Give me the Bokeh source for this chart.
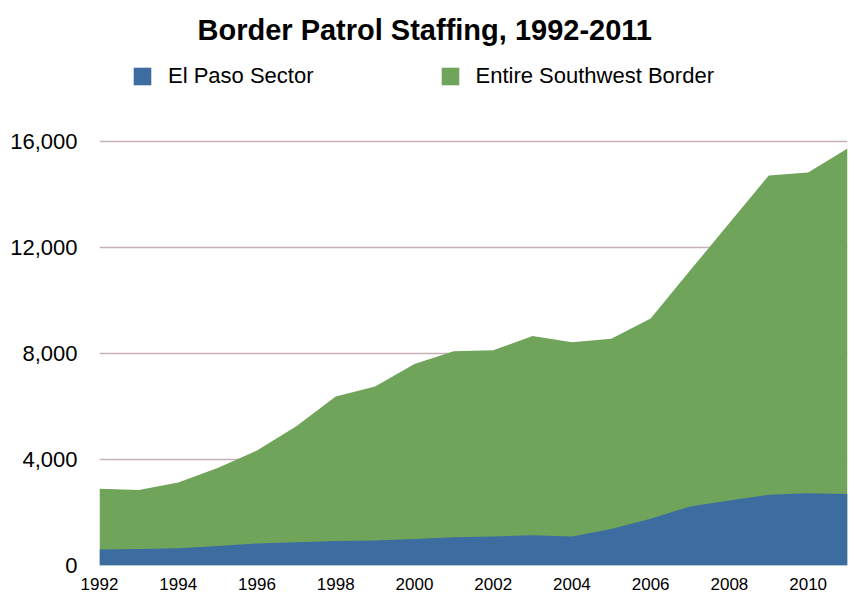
from bokeh.plotting import figure
from bokeh.models import Legend, LegendItem, FixedTicker, NumeralTickFormatter, Range1d, ColumnDataSource
from bokeh.embed import file_html
from bokeh.resources import INLINE

# ---- data ----
title_text = "Border Patrol Staffing, 1992-2011"
series_names = ["El Paso Sector", "Entire Southwest Border"]
years = [1992, 1993, 1994, 1995, 1996, 1997, 1998, 1999, 2000, 2001,
         2002, 2003, 2004, 2005, 2006, 2007, 2008, 2009, 2010, 2011]
el_paso = [600, 620, 650, 740, 830, 880, 920, 940, 1000, 1070,
           1090, 1145, 1090, 1380, 1760, 2230, 2450, 2670, 2730, 2700]
southwest = [2900, 2850, 3130, 3680, 4340, 5250, 6380, 6750, 7600, 8080,
             8120, 8660, 8420, 8560, 9320, 11130, 12920, 14720, 14830, 15740]
x_ticks = [1992, 1994, 1996, 1998, 2000, 2002, 2004, 2006, 2008, 2010]
y_ticks = [0, 4000, 8000, 12000, 16000]

# ---- style ----
FONT = "Liberation Sans"
BLUE = "#3d6ca1"
GREEN = "#6fa45a"
GRID = "#c8b0b8"
Y_TOP = 19358

src = ColumnDataSource(dict(year=years, el_paso=el_paso, southwest=southwest))

p = figure(width=854, height=597, output_backend="svg", toolbar_location=None,
           x_range=Range1d(years[0], years[-1]), y_range=Range1d(0, Y_TOP),
           min_border_left=99, min_border_right=7, min_border_top=52, min_border_bottom=32)

p.outline_line_color = None
p.background_fill_color = "white"
p.border_fill_color = "white"

r_green = p.varea(x="year", y1=0, y2="southwest", source=src, fill_color=GREEN)
r_blue = p.varea(x="year", y1=0, y2="el_paso", source=src, fill_color=BLUE)

p.title.text = title_text
p.title.text_font = FONT
p.title.text_font_size = "29px"
p.title.text_font_style = "bold"
p.title.text_color = "black"
p.title.align = "left"
p.title.vertical_align = "top"
p.title.offset = 98
p.title.standoff = 10

p.xgrid.visible = False
p.ygrid.grid_line_color = GRID
p.ygrid.grid_line_width = 1.3
p.ygrid.ticker = FixedTicker(ticks=y_ticks)

p.yaxis.ticker = FixedTicker(ticks=y_ticks)
p.yaxis.formatter = NumeralTickFormatter(format="0,0")
p.yaxis.axis_line_color = None
p.yaxis.major_tick_line_color = None
p.yaxis.minor_tick_line_color = None
p.yaxis.major_tick_out = 0
p.yaxis.major_tick_in = 0
p.yaxis.minor_tick_out = 0
p.yaxis.minor_tick_in = 0
p.yaxis.major_label_text_font = FONT
p.yaxis.major_label_text_font_size = "22px"
p.yaxis.major_label_text_color = "black"
p.yaxis.major_label_standoff = 22

p.xaxis.ticker = FixedTicker(ticks=x_ticks)
p.xaxis.axis_line_color = None
p.xaxis.major_tick_line_color = None
p.xaxis.minor_tick_line_color = None
p.xaxis.major_tick_out = 0
p.xaxis.major_tick_in = 0
p.xaxis.minor_tick_out = 0
p.xaxis.minor_tick_in = 0
p.xaxis.major_label_text_font = FONT
p.xaxis.major_label_text_font_size = "17px"
p.xaxis.major_label_text_color = "black"
p.xaxis.major_label_standoff = 12

legend = Legend(items=[LegendItem(label=series_names[0], renderers=[r_blue]),
                       LegendItem(label=series_names[1], renderers=[r_green])],
                orientation="horizontal", location=(32, 476),
                padding=0, margin=0, spacing=125, label_standoff=15,
                glyph_width=22, glyph_height=22,
                label_text_font=FONT, label_text_font_size="22px",
                label_text_color="black",
                border_line_color=None, background_fill_alpha=0)
p.add_layout(legend)

open("out.html", "w").write(file_html(p, INLINE))
